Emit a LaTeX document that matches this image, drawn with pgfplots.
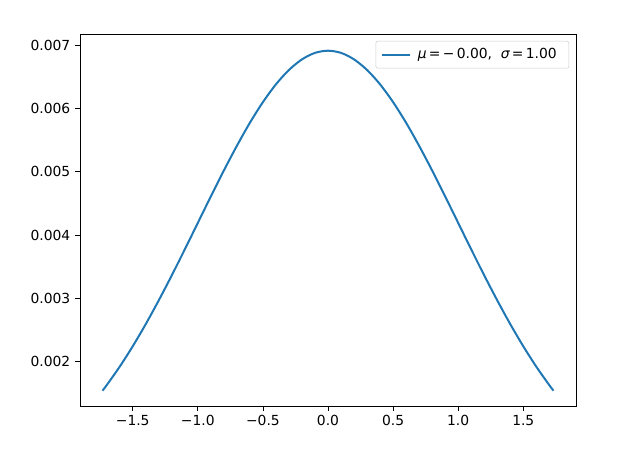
\documentclass[border=0pt]{standalone}
\usepackage{fontspec}
\setmainfont{DejaVu Sans}
\usepackage{pgfplots}
\pgfplotsset{compat=1.18}
\definecolor{mplblue}{HTML}{1F77B4}
\begin{document}
\fontsize{10.4}{12.5}\selectfont
\begin{tikzpicture}
\begin{axis}[
  scale only axis, width=372pt, height=279pt,
  xmin=-1.905, xmax=1.905, ymin=0.0013, ymax=0.007174,
  scaled y ticks=false, scaled x ticks=false,
  xtick={-1.5,-1,-0.5,0,0.5,1,1.5},
  xticklabels={−1.5,−1.0,−0.5,0.0,0.5,1.0,1.5},
  ytick={0.002,0.003,0.004,0.005,0.006,0.007},
  yticklabels={0.002,0.003,0.004,0.005,0.006,0.007},
  xtick pos=bottom, ytick pos=left,
  tick align=outside, major tick length=3.6pt,
  tick style={black, line width=0.6pt},
  axis line style={line width=0.6pt},
  ticklabel style={font=\fontsize{10.4}{12.5}\selectfont},
  legend style={at={(1,1)}, anchor=north east, xshift=-5.2pt, yshift=-5.2pt,
    draw=black!20, rounded corners=1.5pt, inner xsep=4pt, inner ysep=3.5pt,
    font=\fontsize{10.4}{12.5}\selectfont,
    nodes={inner xsep=5pt}},
  legend cell align=left,
  legend image code/.code={\draw[#1] (0pt,0pt) -- (21pt,0pt);},
]
\addplot[mplblue, line width=1.5pt, smooth] coordinates {
(-1.732,0.001542) (-1.7,0.001629) (-1.6,0.001921) (-1.5,0.002243) (-1.4,0.002593)
(-1.3,0.002968) (-1.2,0.003363) (-1.1,0.003773) (-1.0,0.004191) (-0.9,0.004609)
(-0.8,0.005018) (-0.7,0.005408) (-0.6,0.005772) (-0.5,0.006098) (-0.4,0.006379)
(-0.3,0.006606) (-0.2,0.006773) (-0.1,0.006876) (0,0.006910)
(0.1,0.006876) (0.2,0.006773) (0.3,0.006606) (0.4,0.006379) (0.5,0.006098)
(0.6,0.005772) (0.7,0.005408) (0.8,0.005018) (0.9,0.004609) (1.0,0.004191)
(1.1,0.003773) (1.2,0.003363) (1.3,0.002968) (1.4,0.002593) (1.5,0.002243)
(1.6,0.001921) (1.7,0.001629) (1.732,0.001542)
};
\addlegendentry{{\itshape μ}\,=\,−\,0.00,\ \ {\itshape σ}\,=\,1.00}
\end{axis}
\path ([shift={(-60pt,-37.5pt)}]current axis.south west) rectangle ([shift={(48pt,25.5pt)}]current axis.north east);
\end{tikzpicture}
\end{document}
